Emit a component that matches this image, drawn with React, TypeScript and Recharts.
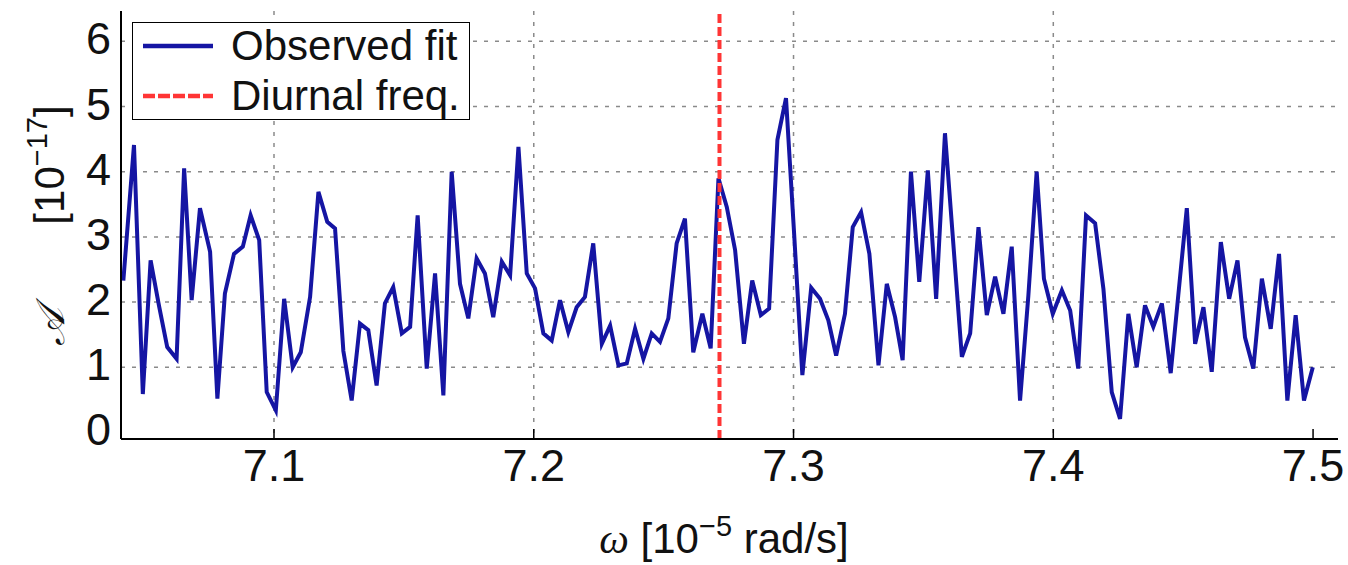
import React from "react";
import {
  LineChart,
  Line,
  XAxis,
  YAxis,
  CartesianGrid,
  ReferenceLine,
  Legend,
} from "recharts";

// ω in units of 1e-5 rad/s
const omega = [
  7.042, 7.0461, 7.0495, 7.0525, 7.0557, 7.0589, 7.0625, 7.0654, 7.0683, 7.0715,
  7.0754, 7.0782, 7.0811, 7.0846, 7.088, 7.091, 7.0943, 7.0972, 7.1007, 7.1039,
  7.1072, 7.1103, 7.1139, 7.1171, 7.1205, 7.1235, 7.1267, 7.1299, 7.1331, 7.1363,
  7.1395, 7.1427, 7.1459, 7.1492, 7.1524, 7.1553, 7.1588, 7.162, 7.1652, 7.1684,
  7.1716, 7.1748, 7.178, 7.1812, 7.1844, 7.1877, 7.1909, 7.1941, 7.1973, 7.2005,
  7.2037, 7.2069, 7.2101, 7.2133, 7.2165, 7.2197, 7.2229, 7.2262, 7.2294, 7.2326,
  7.2358, 7.239, 7.2422, 7.2454, 7.2486, 7.2518, 7.255, 7.2582, 7.2614, 7.2649,
  7.2681, 7.2711, 7.2743, 7.2775, 7.2809, 7.2841, 7.2874, 7.2906, 7.2938, 7.2971,
  7.3003, 7.3034, 7.3068, 7.3102, 7.3134, 7.3164, 7.3198, 7.3228, 7.326, 7.3292,
  7.3327, 7.3359, 7.3391, 7.342, 7.3452, 7.3484, 7.3517, 7.3549, 7.3583, 7.3615,
  7.3648, 7.368, 7.3712, 7.3744, 7.3776, 7.3808, 7.384, 7.3872, 7.3904, 7.3936,
  7.3964, 7.3998, 7.4033, 7.4065, 7.4096, 7.4126, 7.4161, 7.4193, 7.4225, 7.4257,
  7.4289, 7.4321, 7.4353, 7.4385, 7.4418, 7.4452, 7.4481, 7.4514, 7.4546, 7.4578,
  7.461, 7.4645, 7.4677, 7.4709, 7.4738, 7.477, 7.4803, 7.4837, 7.4869, 7.4901,
  7.4933, 7.4965, 7.4999,
];

// amplitude in units of 1e-17
const amplitude = [
  2.33, 4.41, 0.59, 2.64, 1.95, 1.31, 1.13, 4.05, 2.03, 3.44,
  2.77, 0.52, 2.13, 2.74, 2.85, 3.33, 2.95, 0.62, 0.34, 2.05,
  1.0, 1.23, 2.08, 3.69, 3.23, 3.13, 1.25, 0.49, 1.67, 1.57,
  0.72, 1.98, 2.23, 1.52, 1.62, 3.33, 0.98, 2.44, 0.57, 4.0,
  2.28, 1.75, 2.67, 2.44, 1.77, 2.62, 2.41, 4.38, 2.44, 2.21,
  1.52, 1.41, 2.03, 1.54, 1.92, 2.08, 2.9, 1.36, 1.64, 1.03,
  1.06, 1.59, 1.13, 1.52, 1.39, 1.75, 2.9, 3.28, 1.23, 1.82,
  1.29, 3.9, 3.46, 2.8, 1.36, 2.33, 1.8, 1.9, 4.49, 5.13,
  3.0, 0.88, 2.22, 2.05, 1.72, 1.18, 1.82, 3.15, 3.38, 2.74,
  1.03, 2.28, 1.77, 1.11, 4.0, 2.31, 4.02, 2.05, 4.59, 2.9,
  1.16, 1.52, 3.15, 1.8, 2.39, 1.82, 2.85, 0.49, 2.1, 4.0,
  2.36, 1.82, 2.18, 1.87, 0.98, 3.33, 3.21, 2.2, 0.62, 0.21,
  1.82, 1.0, 1.95, 1.62, 1.98, 0.91, 2.1, 3.44, 1.36, 1.92,
  0.93, 2.92, 2.05, 2.64, 1.46, 0.98, 2.36, 1.59, 2.74, 0.49,
  1.8, 0.49, 1.0,
];

const diurnalFreq = 7.2715;

const xTicks = [7.1, 7.2, 7.3, 7.4, 7.5];
const xGrid = [7.1, 7.2, 7.3, 7.4];
const yTicks = [0, 1, 2, 3, 4, 5, 6];
const yGrid = [1, 2, 3, 4, 5, 6];
const yMinorTicks = [
  0, 0.2, 0.4, 0.6, 0.8, 1, 1.2, 1.4, 1.6, 1.8, 2, 2.2, 2.4, 2.6, 2.8, 3, 3.2,
  3.4, 3.6, 3.8, 4, 4.2, 4.4, 4.6, 4.8, 5, 5.2, 5.4, 5.6, 5.8, 6, 6.2, 6.4,
];
const xDomain = [7.0411, 7.5096];
const yDomain = [-0.1, 6.465];

const seriesNames = ["Observed fit", "Diurnal freq."];

const data = omega.map((w, i) => ({ w, a: amplitude[i] }));

const FONT = "'Liberation Sans', Arial, sans-serif";
const BLUE = "#1515a3";
const RED = "#ff3535";
const GRID = "#8a8a8a";

const XTick = (props: any) => {
  const { x, y, payload } = props;
  return (
    <g>
      <line x1={x} x2={x} y1={y} y2={y - 10} stroke="#000" strokeWidth={1.5} />
      <text
        x={x}
        y={y + 42}
        textAnchor="middle"
        fontFamily={FONT}
        fontSize={45}
        fill="#111"
      >
        {payload.value.toFixed(1)}
      </text>
    </g>
  );
};

const YTick = (props: any) => {
  const { x, y, payload } = props;
  return (
    <text
      x={x - 10}
      y={y + 13}
      textAnchor="end"
      fontFamily={FONT}
      fontSize={45}
      fill="#111"
    >
      {payload.value}
    </text>
  );
};

const XTitle = () => (
  <text x={724} y={553} textAnchor="middle" fontFamily={FONT} fontSize={42} fill="#111">
    <tspan fontFamily="'Liberation Serif', 'DejaVu Serif', serif" fontStyle="italic">
      ω
    </tspan>
    <tspan> [10</tspan>
    <tspan dy={-17} fontSize={29}>
      −5
    </tspan>
    <tspan dy={17}> rad/s]</tspan>
  </text>
);

const YTitle = () => (
  <g>
    <text
      x={0}
      y={0}
      transform="translate(64, 327) rotate(-90)"
      textAnchor="middle"
      fontFamily="'DejaVu Serif', 'Liberation Serif', serif"
      fontStyle="italic"
      fontSize={40}
      fill="#111"
    >
      𝒜
    </text>
    <text
      x={0}
      y={0}
      transform="translate(64, 165) rotate(-90)"
      textAnchor="middle"
      fontFamily={FONT}
      fontSize={42}
      fill="#111"
    >
      <tspan>[10</tspan>
      <tspan dy={-17} fontSize={29}>
        −17
      </tspan>
      <tspan dy={17}>]</tspan>
    </text>
  </g>
);

const LegendBox = () => (
  <div
    style={{
      width: 338,
      height: 98,
      border: "1.5px solid #000",
      background: "#fff",
      fontFamily: FONT,
      fontSize: 42,
      color: "#111",
      position: "relative",
      boxSizing: "border-box",
    }}
  >
    {seriesNames.map((name, i) => (
      <div
        key={name}
        style={{
          position: "absolute",
          left: 0,
          top: i === 0 ? 1 : 51,
          height: 44,
          display: "flex",
          alignItems: "center",
          whiteSpace: "nowrap",
        }}
      >
        <svg width={98} height={10} style={{ display: "block" }}>
          <line
            x1={10}
            x2={80}
            y1={5}
            y2={5}
            stroke={i === 0 ? BLUE : RED}
            strokeWidth={4.5}
            strokeDasharray={i === 0 ? undefined : "12 3"}
          />
        </svg>
        <span style={{ lineHeight: "44px" }}>{name}</span>
      </div>
    ))}
  </div>
);

export default function App() {
  return (
    <div style={{ position: "absolute", left: 0, top: 0, width: 1348, height: 565, background: "#fff" }}>
      <LineChart
        width={1348}
        height={565}
        data={data}
        margin={{ top: 11, right: 10, bottom: 0, left: 0 }}
      >
        <CartesianGrid
          xAxisId="x"
          yAxisId="y"
          stroke={GRID}
          strokeWidth={1.5}
          strokeDasharray="4 7"
          horizontalValues={yGrid}
          verticalValues={xGrid}
        />
        <XAxis
          xAxisId="x"
          dataKey="w"
          type="number"
          domain={xDomain}
          allowDataOverflow
          ticks={xTicks}
          interval={0}
          height={126}
          tickSize={0}
          tickMargin={0}
          tickLine={false}
          axisLine={{ stroke: "#000", strokeWidth: 2 }}
          tick={<XTick />}
          label={{ content: () => <XTitle /> }}
        />
        <XAxis
          xAxisId="top"
          orientation="top"
          mirror
          type="number"
          domain={xDomain}
          allowDataOverflow
          ticks={xTicks}
          interval={0}
          height={0}
          tickSize={6}
          tick={false}
          tickLine={{ stroke: "#000", strokeWidth: 1.5 }}
          axisLine={{ stroke: "#000", strokeWidth: 2 }}
        />
        <YAxis
          yAxisId="y"
          type="number"
          domain={yDomain}
          allowDataOverflow
          ticks={yTicks}
          interval={0}
          width={121}
          tickSize={0}
          tickMargin={0}
          tickLine={false}
          axisLine={{ stroke: "#000", strokeWidth: 2 }}
          tick={<YTick />}
          label={{ content: () => <YTitle /> }}
        />
        <YAxis
          yAxisId="ymajor"
          mirror
          type="number"
          domain={yDomain}
          allowDataOverflow
          ticks={yTicks}
          interval={0}
          width={0}
          tickSize={10}
          tick={false}
          axisLine={false}
          tickLine={{ stroke: "#000", strokeWidth: 1.5 }}
        />
        <YAxis
          yAxisId="yminor"
          mirror
          type="number"
          domain={yDomain}
          allowDataOverflow
          ticks={yMinorTicks}
          interval={0}
          width={0}
          tickSize={5}
          tick={false}
          axisLine={false}
          tickLine={{ stroke: "#000", strokeWidth: 1.5 }}
        />
        <YAxis
          yAxisId="right"
          orientation="right"
          mirror
          type="number"
          domain={yDomain}
          allowDataOverflow
          ticks={yTicks}
          interval={0}
          width={0}
          tickSize={6}
          tick={false}
          axisLine={{ stroke: "#000", strokeWidth: 2 }}
          tickLine={{ stroke: "#000", strokeWidth: 1.5 }}
        />
        <Line
          xAxisId="x"
          yAxisId="y"
          type="linear"
          dataKey="a"
          name={seriesNames[0]}
          stroke={BLUE}
          strokeWidth={4}
          strokeLinejoin="miter"
          dot={false}
          isAnimationActive={false}
        />
        <ReferenceLine
          xAxisId="x"
          yAxisId="y"
          x={diurnalFreq}
          stroke={RED}
          strokeWidth={4}
          strokeDasharray="9 4"
        />
        <Legend
          layout="horizontal"
          verticalAlign="middle"
          align="center"
          content={() => <LegendBox />}
          wrapperStyle={{ position: "absolute", left: 132, top: 22, width: 338, height: 98 }}
        />
      </LineChart>
    </div>
  );
}
